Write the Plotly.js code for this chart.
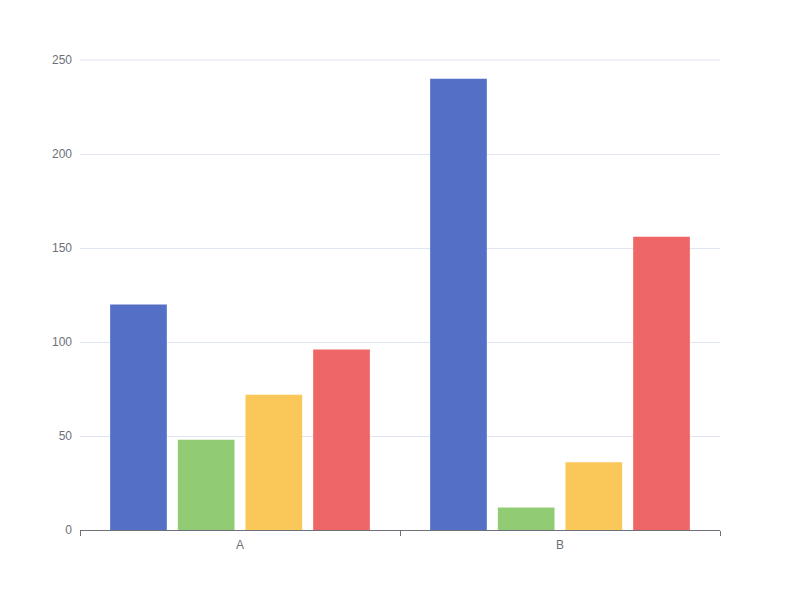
<!DOCTYPE html>
<html>
<head>
<meta charset="utf-8">
<script src="https://cdn.plot.ly/plotly-3.0.1.min.js"></script>
<style>html,body{margin:0;padding:0;background:#fff;}#chart{width:800px;height:600px;}</style>
</head>
<body>
<div id="chart"></div>
<script>
const categories = ['A', 'B'];
const series1 = [120, 240];
const series2 = [48, 12];
const series3 = [72, 36];
const series4 = [96, 156];
const colors = ['#5470c6', '#91cc75', '#fac858', '#ee6666'];
const yTicks = [0, 50, 100, 150, 200, 250];
const yMax = 250;

const allSeries = [series1, series2, series3, series4];
const traces = allSeries.map((vals, i) => ({
  type: 'bar',
  x: categories,
  y: vals,
  marker: { color: colors[i] },
  hoverinfo: 'none'
}));

const layout = {
  width: 800, height: 600,
  margin: { l: 80, r: 80, t: 60, b: 70 },
  paper_bgcolor: '#fff', plot_bgcolor: '#fff',
  showlegend: false,
  barmode: 'group',
  bargap: 0.154,
  bargroupgap: 0.1625,
  font: { family: 'sans-serif', size: 12, color: '#6E7079' },
  xaxis: {
    type: 'category',
    range: [-0.5, 1.5],
    showline: true, linecolor: '#6E7079', linewidth: 1,
    ticks: 'outside', tickson: 'boundaries', ticklen: 5, tickcolor: '#6E7079', tickwidth: 1,
    showgrid: false, zeroline: false,
    tickfont: { size: 12, color: '#6E7079' },
    ticklabelstandoff: 4
  },
  yaxis: {
    range: [0, yMax],
    tickvals: yTicks,
    showline: false, ticks: '', zeroline: false,
    showgrid: true, gridcolor: '#E0E6F1', gridwidth: 1,
    tickfont: { size: 12, color: '#6E7079' },
    ticklabelstandoff: 7
  },
  shapes: [{
    type: 'line', layer: 'below',
    xref: 'paper', x0: 0, x1: 1,
    yref: 'paper', y0: 1, y1: 1,
    line: { color: '#E0E6F1', width: 1 }
  }]
};

Plotly.newPlot('chart', traces, layout, { displayModeBar: false, staticPlot: true });
</script>
</body>
</html>
